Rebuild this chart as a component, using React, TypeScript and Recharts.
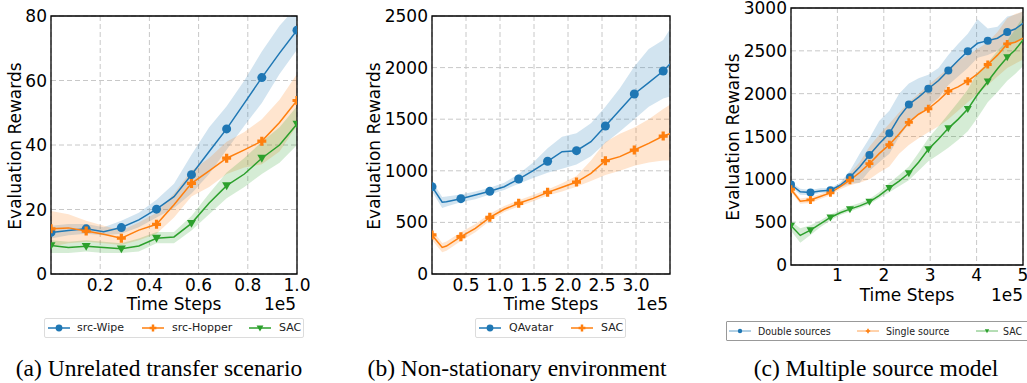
import { ComposedChart, Area, Line, XAxis, YAxis, CartesianGrid, ReferenceArea } from "recharts";

const BLUE = "#1f77b4";
const ORANGE = "#ff7f0e";
const GREEN = "#2ca02c";
const FONT = "'DejaVu Sans', sans-serif";
const SERIF = "'Liberation Serif', 'Times New Roman', serif";

// (a) Unrelated transfer scenario, x in 1e5 steps
const aSteps = [0, 0.071, 0.143, 0.214, 0.286, 0.357, 0.429, 0.5, 0.571, 0.643, 0.714, 0.786, 0.857, 0.929, 1.0];
const aMarks = [0, 0.143, 0.286, 0.429, 0.571, 0.714, 0.857, 1.0];
const aWipe = [12.9, 13.5, 14.0, 13.1, 14.4, 16.8, 20.1, 24.0, 30.8, 38.0, 45.0, 53.0, 60.9, 68.5, 75.6];
const aWipeLo = [11, 12, 12.5, 12, 12.5, 14.5, 17.5, 20.5, 25, 31, 38.5, 46, 53, 62, 69.5];
const aWipeHi = [15, 15.5, 15.5, 14.5, 16.5, 19, 23, 28, 37, 45.5, 52, 60, 69, 77, 83];
const aHopper = [14, 14.3, 13.3, 12.3, 11.1, 13.6, 15.4, 21.5, 28.1, 32, 35.9, 38.5, 41.2, 47, 53.8];
const aHopperLo = [8.5, 9.5, 10, 9.5, 9, 10.5, 12.5, 17.5, 24, 27, 31, 33, 34, 38, 46];
const aHopperHi = [19.5, 18.5, 16.5, 15, 13.5, 16, 19, 25, 32, 36, 41, 44, 48, 54, 62];
const aSac = [8.8, 8.2, 8.6, 8.2, 7.8, 8.7, 11.1, 11.5, 15.7, 22, 27.4, 31, 35.9, 40, 46.5];
const aSacLo = [6.5, 6.5, 7, 6.5, 6.5, 7, 9.5, 9.5, 13.5, 18.5, 23.5, 27, 31, 34.5, 40];
const aSacHi = [10.5, 10, 10.5, 10, 9.5, 11, 13, 13, 18, 25, 31.5, 36, 41, 45.5, 52];

// (b) Non-stationary environment
const bSteps = [0, 0.15, 0.2125, 0.425, 0.6375, 0.85, 1.0625, 1.275, 1.4875, 1.7, 1.9125, 2.125, 2.3375, 2.55, 2.7625, 2.975, 3.1875, 3.4, 3.5];
const bMarks = [0, 0.425, 0.85, 1.275, 1.7, 2.125, 2.55, 2.975, 3.4];
const bAvatar = [846, 695, 700, 730, 765, 801, 846, 920, 1001, 1092, 1185, 1195, 1282, 1434, 1589, 1744, 1854, 1967, 2035];
const bAvatarLo = [800, 640, 655, 695, 725, 770, 815, 875, 930, 980, 1020, 1060, 1140, 1270, 1380, 1500, 1620, 1700, 1720];
const bAvatarHi = [900, 745, 750, 770, 800, 835, 885, 970, 1080, 1218, 1330, 1363, 1460, 1621, 1800, 2010, 2180, 2267, 2375];
const bSac = [378, 258, 271, 362, 442, 549, 627, 685, 733, 791, 840, 891, 975, 1098, 1137, 1201, 1266, 1337, 1360];
const bSacLo = [330, 210, 225, 320, 405, 515, 600, 655, 705, 760, 800, 845, 900, 960, 1000, 1050, 1080, 1100, 1100];
const bSacHi = [430, 300, 315, 405, 485, 585, 660, 715, 765, 820, 880, 950, 1100, 1280, 1360, 1420, 1500, 1600, 1640];

// (c) Multiple source model
const cSteps = [0, 0.2, 0.42, 0.63, 0.85, 1.06, 1.27, 1.48, 1.69, 1.9, 2.12, 2.33, 2.54, 2.75, 2.96, 3.18, 3.39, 3.6, 3.81, 4.02, 4.24, 4.45, 4.66, 4.83, 5.0];
const cMarks = [0, 0.42, 0.85, 1.27, 1.69, 2.12, 2.54, 2.96, 3.39, 3.81, 4.24, 4.66];
const cDouble = [939, 854, 846, 865, 873, 931, 1024, 1145, 1284, 1416, 1537, 1727, 1874, 1960, 2057, 2154, 2270, 2387, 2495, 2588, 2619, 2647, 2720, 2755, 2821];
const cDoubleLo = [910, 820, 815, 840, 850, 905, 950, 960, 1100, 1200, 1300, 1500, 1650, 1760, 1850, 1950, 2100, 2200, 2300, 2420, 2450, 2500, 2550, 2600, 2650];
const cDoubleHi = [970, 890, 875, 895, 900, 960, 1100, 1300, 1480, 1680, 1800, 2000, 2120, 2180, 2220, 2300, 2450, 2580, 2700, 2870, 2760, 2780, 2900, 2920, 2960];
const cSingle = [885, 745, 760, 800, 842, 915, 990, 1080, 1183, 1300, 1405, 1530, 1665, 1760, 1824, 1920, 2030, 2080, 2146, 2230, 2340, 2450, 2581, 2600, 2647];
const cSingleLo = [855, 715, 725, 770, 815, 885, 930, 960, 1000, 1080, 1150, 1300, 1400, 1480, 1550, 1620, 1700, 1800, 1900, 2000, 2100, 2200, 2300, 2350, 2400];
const cSingleHi = [915, 775, 795, 830, 870, 945, 1070, 1200, 1380, 1520, 1650, 1780, 1900, 2000, 2100, 2200, 2300, 2380, 2450, 2520, 2600, 2720, 2880, 2930, 2960];
const cSac = [458, 345, 407, 480, 555, 610, 652, 690, 737, 810, 900, 980, 1071, 1200, 1350, 1470, 1595, 1700, 1820, 1990, 2142, 2290, 2425, 2510, 2627];
const cSacLo = [400, 260, 350, 440, 520, 585, 625, 665, 710, 780, 850, 920, 990, 1100, 1210, 1290, 1370, 1460, 1560, 1720, 1900, 2020, 2150, 2230, 2320];
const cSacHi = [510, 430, 465, 520, 590, 640, 690, 725, 770, 850, 960, 1050, 1150, 1310, 1480, 1620, 1760, 1900, 2050, 2250, 2360, 2500, 2620, 2750, 2900];

type Shape = "circle" | "plus" | "tri";

function Marker({ shape, cx, cy, s, color }: { shape: Shape; cx: number; cy: number; s: number; color: string }) {
  if (shape === "circle") return <circle cx={cx} cy={cy} r={s} fill={color} />;
  if (shape === "plus") {
    const a = s, b = s * 0.36;
    const d = `M${cx - b},${cy - a}H${cx + b}V${cy - b}H${cx + a}V${cy + b}H${cx + b}V${cy + a}H${cx - b}V${cy + b}H${cx - a}V${cy - b}H${cx - b}Z`;
    return <path d={d} fill={color} />;
  }
  return <polygon points={`${cx - s},${cy - s * 0.75} ${cx + s},${cy - s * 0.75} ${cx},${cy + s}`} fill={color} />;
}

interface Series {
  name: string;
  color: string;
  shape: Shape;
  mean: number[];
  lo: number[];
  hi: number[];
}

interface PanelProps {
  left: number;
  top: number;
  width: number;
  height: number;
  marginTop: number;
  marginRight: number;
  xHeight: number;
  tickMargin: number;
  steps: number[];
  marks: number[];
  series: Series[];
  xMax: number;
  yMax: number;
  xTicks: number[];
  yTicks: number[];
  xFmt: (v: number) => string;
  markerSize: number;
}

function Panel(p: PanelProps) {
  const rows = p.steps.map((t, i) => {
    const r: Record<string, unknown> = { t };
    p.series.forEach((s, k) => {
      r[`m${k}`] = s.mean[i];
      r[`b${k}`] = [s.lo[i], s.hi[i]];
    });
    return r;
  });
  const tick = { fontSize: 17, fill: "#000", fontFamily: FONT };
  return (
    <div style={{ position: "absolute", left: p.left, top: p.top }}>
      <ComposedChart width={p.width} height={p.height} data={rows}
        margin={{ top: p.marginTop, right: p.marginRight, left: 0, bottom: 0 }}>
        <CartesianGrid stroke="#c8c8c8" strokeDasharray="5 3" strokeWidth={1} />
        <XAxis dataKey="t" type="number" domain={[0, p.xMax]} ticks={p.xTicks} interval={0}
          tickFormatter={p.xFmt} tick={tick} tickLine={false} axisLine={false}
          tickSize={0} tickMargin={p.tickMargin} height={p.xHeight} allowDataOverflow />
        <YAxis type="number" domain={[0, p.yMax]} ticks={p.yTicks} interval={0}
          tick={tick} tickLine={false} axisLine={false} tickSize={0} tickMargin={4}
          width={51} allowDataOverflow />
        {p.series.map((s, k) => (
          <Area key={`a${k}`} type="linear" dataKey={`b${k}`} stroke="none" fill={s.color}
            fillOpacity={0.2} dot={false} activeDot={false} isAnimationActive={false} />
        ))}
        {p.series.map((s, k) => (
          <Line key={`l${k}`} type="linear" dataKey={`m${k}`} stroke={s.color} strokeWidth={1.5}
            activeDot={false} isAnimationActive={false}
            dot={(d: any) => p.marks.includes(d.payload.t)
              ? <Marker key={`d${k}-${d.index}`} shape={s.shape} cx={d.cx} cy={d.cy} s={p.markerSize} color={s.color} />
              : <g key={`d${k}-${d.index}`} />} />
        ))}
        <ReferenceArea x1={0} x2={p.xMax} y1={0} y2={p.yMax} fill="none" stroke="#000"
          strokeWidth={1.3} ifOverflow="visible" />
      </ComposedChart>
    </div>
  );
}

interface LegendProps {
  left: number;
  top: number;
  width: number;
  series: Series[];
  handles: number[];
  texts: number[];
  border: string;
  font: string;
  size: number;
  small?: boolean;
}

function Legend(l: LegendProps) {
  return (
    <div style={{
      position: "absolute", left: l.left, top: l.top, width: l.width, height: 18,
      border: l.border, borderRadius: l.small ? 1 : 2, background: "#fff",
      fontFamily: l.font, fontSize: l.size, color: "#222", whiteSpace: "nowrap",
    }}>
      {l.series.map((s, i) => (
        <div key={s.name}>
          <svg width={22} height={12} style={{ position: "absolute", left: l.handles[i] - l.left - 1, top: 3 }}>
            <line x1={0} y1={6} x2={22} y2={6} stroke={s.color} strokeWidth={l.small ? 1 : 1.5} strokeOpacity={l.small ? 0.7 : 1} />
            <Marker shape={s.shape} cx={11} cy={6} s={l.small ? 2.2 : 3.4} color={s.color} />
          </svg>
          <span style={{ position: "absolute", left: l.texts[i] - l.left - 1, top: 2, lineHeight: "14px" }}>{s.name}</span>
        </div>
      ))}
    </div>
  );
}

function Label({ x, y, text, rotate, font = FONT, size = 17 }: { x: number; y: number; text: string; rotate?: boolean; font?: string; size?: number }) {
  return (
    <div style={{
      position: "absolute", left: x, top: y, whiteSpace: "nowrap", fontFamily: font, fontSize: size,
      lineHeight: 1, color: "#000",
      transform: `translate(-50%, -50%)${rotate ? " rotate(-90deg)" : ""}`,
    }}>{text}</div>
  );
}

const aSeries: Series[] = [
  { name: "src-Wipe", color: BLUE, shape: "circle", mean: aWipe, lo: aWipeLo, hi: aWipeHi },
  { name: "src-Hopper", color: ORANGE, shape: "plus", mean: aHopper, lo: aHopperLo, hi: aHopperHi },
  { name: "SAC", color: GREEN, shape: "tri", mean: aSac, lo: aSacLo, hi: aSacHi },
];
const bSeries: Series[] = [
  { name: "QAvatar", color: BLUE, shape: "circle", mean: bAvatar, lo: bAvatarLo, hi: bAvatarHi },
  { name: "SAC", color: ORANGE, shape: "plus", mean: bSac, lo: bSacLo, hi: bSacHi },
];
const cSeries: Series[] = [
  { name: "Double sources", color: BLUE, shape: "circle", mean: cDouble, lo: cDoubleLo, hi: cDoubleHi },
  { name: "Single source", color: ORANGE, shape: "plus", mean: cSingle, lo: cSingleLo, hi: cSingleHi },
  { name: "SAC", color: GREEN, shape: "tri", mean: cSac, lo: cSacLo, hi: cSacHi },
];

const CONDENSED = "'DejaVu Sans Condensed', 'DejaVu Sans', sans-serif";

export default function App() {
  return (
    <div style={{ position: "absolute", left: 0, top: 0, width: 1027, height: 383, background: "#fff", overflow: "hidden" }}>
      <Panel left={0} top={0} width={310} height={300} marginTop={16} marginRight={13} xHeight={26} tickMargin={5}
        steps={aSteps} marks={aMarks} series={aSeries} xMax={1} yMax={80}
        xTicks={[0.2, 0.4, 0.6, 0.8, 1.0]} yTicks={[0, 20, 40, 60, 80]} xFmt={(v) => v.toFixed(1)} markerSize={4.5} />
      <Panel left={381} top={0} width={300} height={300} marginTop={16} marginRight={11} xHeight={26} tickMargin={5}
        steps={bSteps} marks={bMarks} series={bSeries} xMax={3.5} yMax={2500}
        xTicks={[0.5, 1.0, 1.5, 2.0, 2.5, 3.0]} yTicks={[0, 500, 1000, 1500, 2000, 2500]} xFmt={(v) => v.toFixed(1)} markerSize={4.5} />
      <Panel left={740} top={-10} width={287} height={310} marginTop={18} marginRight={4} xHeight={35} tickMargin={4}
        steps={cSteps} marks={cMarks} series={cSeries} xMax={5} yMax={3000}
        xTicks={[1, 2, 3, 4, 5]} yTicks={[0, 500, 1000, 1500, 2000, 2500, 3000]} xFmt={(v) => String(v)} markerSize={4} />

      <Label x={15} y={146} text="Evaluation Rewards" rotate />
      <Label x={374} y={146} text="Evaluation Rewards" rotate />
      <Label x={733} y={137} text="Evaluation Rewards" rotate />
      <Label x={174} y={304} text="Time Steps" />
      <Label x={280} y={304} text="1e5" />
      <Label x={551} y={304} text="Time Steps" />
      <Label x={652} y={304} text="1e5" />
      <Label x={907} y={295} text="Time Steps" />
      <Label x={1007} y={295} text="1e5" />

      <Legend left={44} top={318} width={258} series={aSeries} handles={[48, 142, 249]} texts={[77, 172, 279]}
        border="1px solid #dcdcdc" font={FONT} size={11} />
      <Legend left={475} top={318} width={149} series={bSeries} handles={[479, 571]} texts={[509, 601]}
        border="1px solid #dcdcdc" font={FONT} size={11} />
      <Legend left={726} top={321} width={310} series={cSeries} handles={[729, 857, 976]} texts={[758, 886, 1003]}
        border="1px solid #999" font={CONDENSED} size={10.5} small />

      <Label x={159} y={369} text="(a) Unrelated transfer scenario" font={SERIF} size={23.5} />
      <Label x={517} y={369} text="(b) Non-stationary environment" font={SERIF} size={23.5} />
      <Label x={876} y={369} text="(c) Multiple source model" font={SERIF} size={23.5} />
    </div>
  );
}
